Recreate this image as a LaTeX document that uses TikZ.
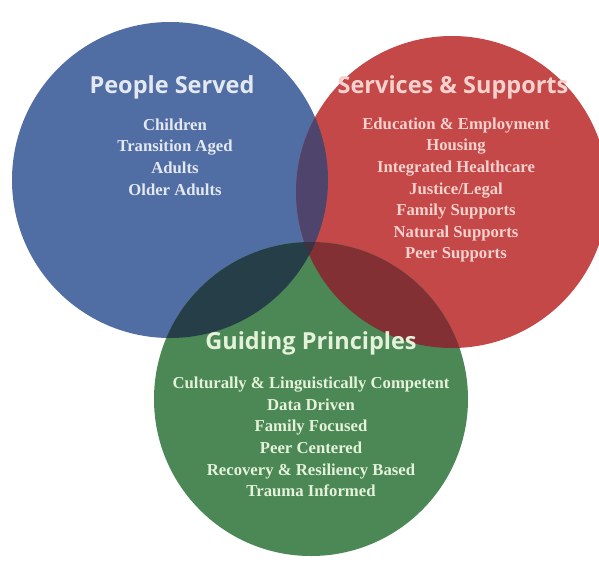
\documentclass[tikz,border=0pt]{standalone}
\usepackage{fontspec}
\setmainfont{Liberation Serif}
\newfontfamily\headfont{Open Sans}
\definecolor{psblue}{RGB}{80,110,163}
\definecolor{ssred}{RGB}{196,72,72}
\definecolor{gpgreen}{RGB}{76,135,86}
\definecolor{bluered}{RGB}{78,68,108}
\definecolor{bluegreen}{RGB}{38,62,72}
\definecolor{redgreen}{RGB}{130,48,52}
\definecolor{allthree}{RGB}{60,50,66}
\definecolor{bluetext}{RGB}{228,232,240}
\definecolor{redtext}{RGB}{245,210,206}
\definecolor{greentext}{RGB}{228,242,218}
\tikzset{
	heading/.style={font=\headfont\bfseries\fontsize{23.5}{26}\selectfont},
	itemlist/.style={align=center,font=\bfseries\fontsize{16.7}{21.6}\selectfont}
}
\begin{document}
\begin{tikzpicture}[x=1pt,y=-1pt]
		\useasboundingbox (0,0) rectangle (599,563);
		\fill[white] (0,0) rectangle (599,563);
		\fill[psblue] (170,180) circle (158pt);
		\fill[ssred] (452,192) circle (156pt);
		\fill[gpgreen] (311,399) circle (157pt);
		\begin{scope}
			\clip (452,192) circle (156pt);
			\fill[redgreen] (311,399) circle (157pt);
		\end{scope}
		\begin{scope}
			\clip (170,180) circle (158pt);
			\fill[bluered] (452,192) circle (156pt);
			\fill[bluegreen] (311,399) circle (157pt);
			\clip (452,192) circle (156pt);
			\fill[allthree] (311,399) circle (157pt);
		\end{scope}
		\node[heading, text=bluetext] (people) at (172,87) {People Served};
		\node[itemlist, text=bluetext] (peoplelist) at (175,157) {Children\\Transition Aged\\Adults\\Older Adults};
		\node[heading, text=redtext] (services) at (453,87) {Services \& Supports};
		\node[itemlist, text=redtext] (serviceslist) at (456,190) {Education \& Employment\\Housing\\Integrated Healthcare\\Justice/Legal\\Family Supports\\Natural Supports\\Peer Supports};
		\node[heading, text=greentext] (guiding) at (311,343) {Guiding Principles};
		\node[itemlist, text=greentext] (guidinglist) at (311,437) {Culturally \& Linguistically Competent\\Data Driven\\Family Focused\\Peer Centered\\Recovery \& Resiliency Based\\Trauma Informed};
\end{tikzpicture}
\end{document}
